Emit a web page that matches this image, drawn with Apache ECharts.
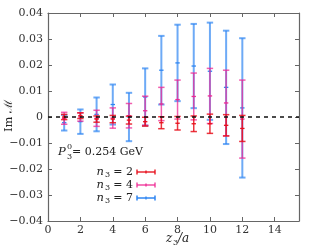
<!DOCTYPE html>
<html><head><meta charset="utf-8">
<script src="https://cdn.jsdelivr.net/npm/echarts@6/dist/echarts.min.js"></script>
<style>html,body{margin:0;padding:0;background:#fff}#c{width:315px;height:251px}</style>
</head><body><div id="c"></div>
<script>
const zs = [1,2,3,4,5,6,7,8,9,10,11,12];
const n2Val = [0.0000,0.0005,-0.0008,-0.0008,-0.0012,-0.0018,-0.0022,-0.0024,-0.0026,-0.0026,-0.0032,-0.0044];
const n2Err = [0.0010,0.0011,0.0012,0.0014,0.0015,0.0017,0.0023,0.0026,0.0030,0.0037,0.0041,0.0050];
const n4Val = [-0.0005,0.0000,-0.0005,-0.0004,0.0005,0.0024,0.0050,0.0067,0.0079,0.0081,0.0054,-0.0008];
const n4Err = [0.0023,0.0016,0.0031,0.0039,0.0047,0.0056,0.0064,0.0075,0.0090,0.0106,0.0126,0.0150];
const n7Val = [-0.0022,-0.0018,0.0010,0.0048,0.0000,0.0077,0.0180,0.0208,0.0196,0.0176,0.0114,0.0035];
const n7Err = [0.0030,0.0047,0.0065,0.0077,0.0093,0.0110,0.0132,0.0147,0.0162,0.0187,0.0218,0.0268];
const xTicks = [0,2,4,6,8,10,12,14];
const yTicks = [-0.04,-0.03,-0.02,-0.01,0,0.01,0.02,0.03,0.04];

const FONT = '"DejaVu Serif","Liberation Serif",serif';
const colors = {n2:'#e8101c', n4:'#ee2a94', n7:'#2f86f2'};

function build(vals, errs){ return zs.map((z,i)=>[z, vals[i], errs[i]]); }
function errSeries(name, vals, errs, color, lw, opacity, z){
  return {
    type:'custom', name, z,
    data: build(vals, errs),
    renderItem(params, api){
      const x = api.value(0), y = api.value(1), e = api.value(2);
      const t = api.coord([x, y+e]), b = api.coord([x, y-e]), c = api.coord([x, y]);
      const st = {stroke: color, lineWidth: lw, opacity};
      const cw = 3.2, mw = 2.2;
      return {type:'group', children:[
        {type:'line', shape:{x1:t[0],y1:t[1],x2:b[0],y2:b[1]}, style:st},
        {type:'line', shape:{x1:t[0]-cw,y1:t[1],x2:t[0]+cw,y2:t[1]}, style:st},
        {type:'line', shape:{x1:b[0]-cw,y1:b[1],x2:b[0]+cw,y2:b[1]}, style:st},
        {type:'line', shape:{x1:c[0]-mw,y1:c[1],x2:c[0]+mw,y2:c[1]}, style:{stroke:color,lineWidth:1.3,opacity:1}}
      ]};
    }
  };
}

const fmtY = v => { if (Math.abs(v) < 1e-9) return '0'; const s = Math.abs(v).toFixed(2); return (v<0?'\u2212':'') + s; };

const chart = echarts.init(document.getElementById('c'));
const axisCol = '#666';
const TXT = '#222';
function t(x, y, text, font, align){
  return {type:'text', x, y, style:{text, font, fill:TXT, textAlign:align||'left', textVerticalAlign:'middle'}};
}
const legendItems = [[' = 2',colors.n2,1.5,0.9,172],[' = 4',colors.n4,1.5,0.85,185],[' = 7',colors.n7,2,0.75,198]];
const graphics = [];
// Annotation P_3^0 = 0.254 GeV
graphics.push(t(58, 152, 'P', 'italic 11.5px '+FONT));
graphics.push(t(67, 147, '0', '8px '+FONT));
graphics.push(t(67, 157, '3', '8px '+FONT));
graphics.push(t(143, 152, '= 0.254 GeV', '11px '+FONT, 'right'));
legendItems.forEach(it=>{
  const y = it[4];
  graphics.push(t(133, y, it[0], '11px '+FONT, 'right'));
  graphics.push(t(110, y+3, '3', '8px '+FONT, 'right'));
  graphics.push(t(104, y, 'n', 'italic 11.5px '+FONT, 'right'));
  const st = {stroke:it[1], lineWidth:it[2], opacity:it[3]};
  graphics.push({type:'line', shape:{x1:137,y1:y,x2:155,y2:y}, style:st});
  graphics.push({type:'line', shape:{x1:137,y1:y-2.5,x2:137,y2:y+2.5}, style:st});
  graphics.push({type:'line', shape:{x1:155,y1:y-2.5,x2:155,y2:y+2.5}, style:st});
  graphics.push({type:'line', shape:{x1:146,y1:y-1.5,x2:146,y2:y+1.5}, style:{stroke:it[1],lineWidth:1.3}});
});
// axis titles
graphics.push({type:'text', x:9, y:116, rotation:Math.PI/2,
  style:{text:'Im \u2133', font:'11.5px '+FONT, fill:TXT, textAlign:'center', textVerticalAlign:'middle'}});
graphics.push(t(166, 239, 'z', 'italic 12px '+FONT));
graphics.push(t(173, 243, '3', '8px '+FONT));
graphics.push(t(178, 239, '/a', 'italic 12px '+FONT));

const opt = {
  animation:false,
  grid:{left:48, right:16, top:13, bottom:30},
  xAxis:[{type:'value', min:0, max:15.5, interval:2,
    axisLine:{show:true, onZero:false, lineStyle:{color:axisCol,width:1.2}},
    axisTick:{inside:true, length:4, lineStyle:{color:axisCol}},
    axisLabel:{fontFamily:FONT, fontSize:11, color:'#333', margin:4,
      formatter: v => xTicks.includes(v) ? String(v) : ''},
    splitLine:{show:false}},
    {type:'value', position:'top', min:0, max:15.5, interval:2,
    axisLine:{show:true, onZero:false, lineStyle:{color:axisCol,width:1.2}},
    axisTick:{inside:true, length:4, lineStyle:{color:axisCol}},
    axisLabel:{show:false}, splitLine:{show:false}}],
  yAxis:[{type:'value', min:-0.04, max:0.04, interval:0.01,
    axisLine:{show:true, onZero:false, lineStyle:{color:axisCol,width:1.2}},
    axisTick:{inside:true, length:4, lineStyle:{color:axisCol}},
    axisLabel:{fontFamily:FONT, fontSize:11, color:'#333', margin:5, formatter: fmtY},
    splitLine:{show:false}},
    {type:'value', position:'right', min:-0.04, max:0.04, interval:0.01,
    axisLine:{show:true, onZero:false, lineStyle:{color:axisCol,width:1.2}},
    axisTick:{inside:true, length:4, lineStyle:{color:axisCol}},
    axisLabel:{show:false}, splitLine:{show:false}}],
  series:[
    errSeries('n3=7', n7Val, n7Err, colors.n7, 2, 0.7, 2),
    errSeries('n3=4', n4Val, n4Err, colors.n4, 1.5, 0.75, 3),
    errSeries('n3=2', n2Val, n2Err, colors.n2, 1.5, 0.85, 4),
    {type:'line', data:[[0,0],[15.5,0]], symbol:'none', z:10,
     lineStyle:{color:'#111', width:1.5, type:[4,4]}}
  ],
  graphic: graphics
};
chart.setOption(opt);
</script></body></html>
